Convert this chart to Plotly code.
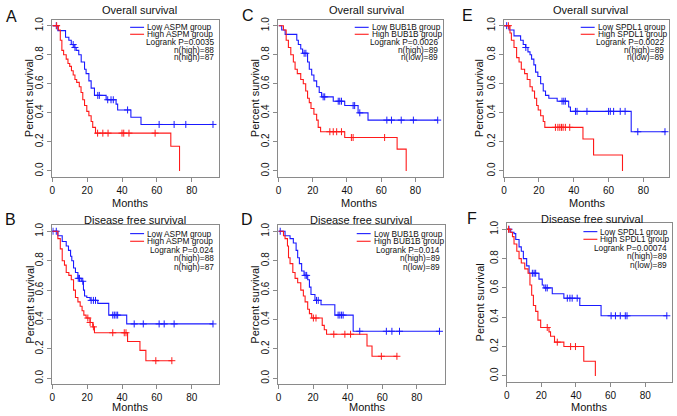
import numpy as np
import plotly.graph_objects as go

W, H = 677, 416

# ---------------- DATA ----------------
# Panel A: ASPM, overall survival
A_low_t = [0, 3.2, 7.6, 9.5, 10.9, 12.5, 13.7, 15.2, 16.6, 18.5, 19.4, 21, 22.3, 24.2, 30.9, 36.6, 37.5, 45.1, 50.9, 92.2]
A_low_s = [1.0, 0.966, 0.92, 0.9, 0.87, 0.85, 0.83, 0.8, 0.75, 0.7, 0.67, 0.62, 0.57, 0.52, 0.49, 0.46, 0.42, 0.37, 0.32, 0.32]
A_low_c = [2.3, 12.0, 13.0, 26.1, 27.0, 31.8, 33.7, 35.0, 43.2, 61.3, 69.9, 76.6, 92.2]
A_high_t = [0, 3.5, 4.6, 5.5, 6.5, 8, 9, 10, 11, 12, 13, 14, 15.5, 16.5, 17.5, 18.5, 19.8, 21, 22.3, 23.2, 24.8, 68, 73]
A_high_s = [1.0, 0.97, 0.9, 0.83, 0.8, 0.77, 0.74, 0.72, 0.69, 0.66, 0.63, 0.61, 0.58, 0.54, 0.49, 0.45, 0.41, 0.38, 0.34, 0.3, 0.26, 0.17, 0.0]
A_high_c = [2.5, 26, 29, 32, 40, 41, 44, 59]

# Panel C: BUB1B, overall survival
C_low_t = [0, 1.9, 3.9, 10.7, 11.6, 13.0, 14.1, 17.0, 18.0, 19.4, 20.7, 22.3, 23.8, 25.2, 32.0, 38.7, 46.5, 52.3, 93]
C_low_s = [1.0, 0.97, 0.94, 0.9, 0.87, 0.84, 0.81, 0.75, 0.7, 0.66, 0.62, 0.58, 0.54, 0.51, 0.48, 0.45, 0.4, 0.35, 0.35]
C_low_c = [15, 16, 26.1, 27, 34.9, 35.8, 36.8, 43.6, 44.5, 47.5, 63.3, 66, 71.7, 78.8, 93]
C_high_t = [0, 2.9, 4.5, 5.8, 7.2, 8.7, 9.7, 11.0, 13.0, 14.5, 15.9, 17.0, 18.0, 19.0, 20.7, 22.3, 23.2, 24.6, 26.1, 38.7, 69.3, 74.6]
C_high_s = [1.0, 0.97, 0.9, 0.85, 0.8, 0.75, 0.7, 0.67, 0.63, 0.6, 0.55, 0.5, 0.47, 0.43, 0.39, 0.35, 0.3, 0.27, 0.27, 0.23, 0.15, 0.0]
C_high_c = [30, 32, 34, 36.8, 42.6, 43.6, 62]

# Panel E: SPDL1, overall survival
E_low_t = [0, 2.9, 5.7, 9.5, 11.0, 12.4, 13.7, 14.9, 15.8, 17.1, 18.1, 19.4, 21.0, 22.5, 23.8, 25.7, 30.5, 37.1, 38.1, 73.0, 93]
E_low_s = [1.0, 0.97, 0.93, 0.9, 0.87, 0.85, 0.82, 0.8, 0.77, 0.73, 0.68, 0.65, 0.6, 0.55, 0.52, 0.5, 0.48, 0.44, 0.41, 0.27, 0.27]
E_low_c = [1.5, 12.5, 33.3, 34.3, 35.2, 41.0, 41.9, 47.6, 60.0, 61.0, 62.9, 66.7, 69.5, 76.8, 92.4]
E_high_t = [0, 3.4, 4.2, 5.7, 7.2, 8.6, 9.9, 11.8, 13.3, 14.9, 16.2, 17.5, 18.7, 19.6, 21.0, 22.5, 23.4, 25.1, 45.3, 51.4, 68.0]
E_high_s = [1.0, 0.95, 0.9, 0.85, 0.78, 0.75, 0.7, 0.67, 0.63, 0.58, 0.55, 0.5, 0.45, 0.42, 0.38, 0.34, 0.3, 0.3, 0.22, 0.11, 0.0]
E_high_c = [2.5, 29.5, 30.9, 32.0, 33.0, 33.9, 35.2, 37.7]

# Panel B: ASPM, disease free survival
B_low_t = [0, 3.2, 5.7, 8.0, 9.3, 10.5, 11.2, 12.2, 13.3, 14.7, 16.6, 17.9, 18.5, 19.8, 21.7, 26.1, 32.4, 42.7, 92.2]
B_low_s = [1.0, 0.97, 0.93, 0.9, 0.87, 0.83, 0.8, 0.75, 0.72, 0.68, 0.66, 0.6, 0.56, 0.55, 0.53, 0.51, 0.43, 0.37, 0.37]
B_low_c = [0.4, 2.3, 14.9, 15.6, 17.5, 22.3, 23.6, 24.8, 34.7, 35.6, 36.6, 37.5, 47, 52.2, 61.3, 64.2, 69.9, 92.2]
B_high_t = [0, 3.2, 4.6, 5.7, 7.0, 8.0, 9.5, 10.9, 12.2, 13.3, 14.7, 16.0, 17.1, 18.1, 19.4, 21.7, 23.2, 24.2, 28.0, 43.2, 50.3, 53.7, 68.6]
B_high_s = [1.0, 0.95, 0.88, 0.8, 0.77, 0.72, 0.7, 0.67, 0.6, 0.55, 0.52, 0.49, 0.46, 0.43, 0.41, 0.38, 0.35, 0.31, 0.31, 0.25, 0.19, 0.12, 0.12]
B_high_c = [20.4, 21.7, 23.6, 34.7, 41.3, 42.3, 59.4, 68.6]

# Panel D: BUB1B, disease free survival
D_low_t = [0, 3.8, 6.7, 8.6, 10.2, 11.1, 12.1, 13.4, 14.8, 16.9, 17.9, 18.8, 21.1, 24.6, 32.6, 43.2, 93.1]
D_low_s = [1.0, 0.97, 0.95, 0.92, 0.87, 0.82, 0.78, 0.73, 0.7, 0.67, 0.62, 0.57, 0.53, 0.5, 0.43, 0.32, 0.32]
D_low_c = [1.0, 15.4, 16.3, 22.0, 23.0, 34.5, 35.5, 36.5, 37.4, 47.0, 62.4, 65.6, 70.0, 93.1]
D_high_t = [0, 2.9, 3.8, 5.2, 5.8, 6.7, 8.3, 9.6, 11.1, 12.9, 14.4, 15.4, 16.9, 17.9, 19.2, 25.3, 26.5, 27.8, 51.2, 54.1, 68.5]
D_high_s = [1.0, 0.97, 0.95, 0.9, 0.82, 0.78, 0.72, 0.68, 0.65, 0.6, 0.56, 0.52, 0.47, 0.44, 0.41, 0.36, 0.33, 0.3, 0.22, 0.15, 0.15]
D_high_c = [20.2, 21.7, 32.0, 38.4, 41.7, 59.5, 68.5]

# Panel F: SPDL1, disease free survival
F_low_t = [0, 2.3, 4.2, 5.2, 7.1, 8.4, 9.6, 11.5, 12.9, 18.6, 20.5, 21.5, 26.3, 33.0, 42.2, 54.5, 92.5]
F_low_s = [1.0, 0.98, 0.97, 0.93, 0.88, 0.85, 0.8, 0.75, 0.7, 0.66, 0.62, 0.6, 0.56, 0.53, 0.48, 0.41, 0.41]
F_low_c = [1.3, 14.8, 15.8, 16.7, 22.5, 23.4, 35.0, 36.5, 37.8, 40.7, 60.3, 62.8, 65.6, 68.5, 69.5, 92.5]
F_high_t = [0, 1.9, 3.3, 4.2, 5.8, 7.1, 8.4, 10.4, 12.3, 13.4, 14.4, 15.4, 16.7, 18.0, 19.6, 24.4, 25.3, 27.6, 33.0, 44.5, 51.2]
F_high_s = [1.0, 0.98, 0.95, 0.9, 0.85, 0.8, 0.77, 0.73, 0.7, 0.62, 0.55, 0.48, 0.44, 0.38, 0.33, 0.3, 0.27, 0.23, 0.2, 0.1, 0.0]
F_high_c = [1.0, 23.4, 29.2, 36.9, 39.7]

x_ticks = [0, 20, 40, 60, 80]
y_ticks = [0.0, 0.2, 0.4, 0.6, 0.8, 1.0]

panels = [
    ("A", "ASPM", "Overall survival", "Logrank P=0.0035", ["n(high)=88", "n(high)=87"],
     (A_low_t, A_low_s, A_low_c), (A_high_t, A_high_s, A_high_c)),
    ("C", "BUB1B", "Overall survival", "Logrank P=0.0026", ["n(high)=89", "n(low)=89"],
     (C_low_t, C_low_s, C_low_c), (C_high_t, C_high_s, C_high_c)),
    ("E", "SPDL1", "Overall survival", "Logrank P=0.0022", ["n(high)=89", "n(low)=89"],
     (E_low_t, E_low_s, E_low_c), (E_high_t, E_high_s, E_high_c)),
    ("B", "ASPM", "Disease free survival", "Logrank P=0.024", ["n(high)=88", "n(high)=87"],
     (B_low_t, B_low_s, B_low_c), (B_high_t, B_high_s, B_high_c)),
    ("D", "BUB1B", "Disease free survival", "Logrank P=0.014", ["n(high)=89", "n(low)=89"],
     (D_low_t, D_low_s, D_low_c), (D_high_t, D_high_s, D_high_c)),
    ("F", "SPDL1", "Disease free survival", "Logrank P=0.00074", ["n(high)=89", "n(low)=89"],
     (F_low_t, F_low_s, F_low_c), (F_high_t, F_high_s, F_high_c)),
]

# ---------------- LAYOUT (pixel geometry) ----------------
geom = {
    "A": dict(box=(49.5, 216.7, 17, 175), xmax=95.5, letter=(9, 14), title=(137, 7.5), months=(128, 201), ylab=26, row=0),
    "C": dict(box=(276.7, 442.3, 17, 175), xmax=96.3, letter=(246, 13), title=(365, 7.5), months=(358, 201), ylab=253, row=0),
    "E": dict(box=(503.3, 669.3, 17, 175), xmax=94.9, letter=(467, 13), title=(590, 7.5), months=(587, 201), ylab=478, row=0),
    "B": dict(box=(49.5, 216.7, 224, 384), xmax=95.5, letter=(8, 218), title=(133, 219), months=(128, 407), ylab=27, row=1),
    "D": dict(box=(276.7, 444.3, 224, 384), xmax=96.5, letter=(245, 218), title=(360, 219), months=(366, 407), ylab=253, row=1),
    "F": dict(box=(506, 672, 222, 381.5), xmax=95.5, letter=(471, 217), title=(592, 217.5), months=(589, 407), ylab=479, row=1),
}
leg_offsets = [[7.5, 14.5, 22.5, 30, 37.5], [8.3, 16, 24.5, 33, 41.5]]

FONT = "Liberation Sans, Arial, Helvetica, sans-serif"
BLUE = "#1a1aff"
RED = "#ff1a1a"
AXC = "#8a8a8a"

def px(x):
    return x / W

def py(y):
    return 1 - y / H

def surv_at(t, s, c):
    t = np.asarray(t)
    s = np.asarray(s)
    idx = np.searchsorted(t, np.asarray(c), side="right") - 1
    return s[np.clip(idx, 0, len(s) - 1)]

fig = go.Figure()
layout = dict(
    width=W, height=H, margin=dict(l=0, r=0, t=0, b=0, pad=0),
    paper_bgcolor="white", plot_bgcolor="white", showlegend=False,
    font=dict(family=FONT, color="#111"),
)
annotations = []
shapes = []

for i, (letter, gene, title, logrank, nlines, low, high) in enumerate(panels):
    g = geom[letter]
    L, R, T, B = g["box"]
    k = "" if i == 0 else str(i + 1)
    xa, ya = "x" + k, "y" + k
    layout["xaxis" + k] = dict(
        domain=[px(L), px(R)], range=[0, g["xmax"]], anchor=ya,
        tickvals=x_ticks, ticks="outside", ticklen=4, tickcolor=AXC, tickwidth=1,
        showline=True, linecolor=AXC, linewidth=1, mirror=True,
        showgrid=False, zeroline=False, tickfont=dict(size=10, color="#111"),
    )
    layout["yaxis" + k] = dict(
        domain=[py(B), py(T)], range=[-0.04, 1.04], anchor=xa,
        tickvals=y_ticks, tickformat=".1f", tickangle=-90, ticks="outside", ticklen=4,
        tickcolor=AXC, tickwidth=1,
        showline=True, linecolor=AXC, linewidth=1, mirror=True,
        showgrid=False, zeroline=False, tickfont=dict(size=10, color="#111"),
    )
    for (t, s, c), col in ((low, BLUE), (high, RED)):
        fig.add_trace(go.Scatter(x=t, y=s, mode="lines", xaxis=xa, yaxis=ya,
                                 line=dict(shape="hv", color=col, width=1.1),
                                 hoverinfo="skip"))
        fig.add_trace(go.Scatter(x=c, y=surv_at(t, s, c), mode="markers", xaxis=xa, yaxis=ya,
                                 marker=dict(symbol="cross-thin", size=5, color=col,
                                             line=dict(width=1, color=col)),
                                 hoverinfo="skip"))

    lx, ly = g["letter"]
    annotations.append(dict(text=letter, x=px(lx), y=py(ly), xref="paper", yref="paper",
                            showarrow=False, xanchor="center", yanchor="middle",
                            font=dict(size=16, color="#111")))
    tx, ty = g["title"]
    annotations.append(dict(text=title, x=px(tx), y=py(ty), xref="paper", yref="paper",
                            showarrow=False, xanchor="center", yanchor="middle",
                            font=dict(size=11, color="#111")))
    mx, my = g["months"]
    annotations.append(dict(text="Months", x=px(mx), y=py(my), xref="paper", yref="paper",
                            showarrow=False, xanchor="center", yanchor="middle",
                            font=dict(size=11, color="#111")))
    annotations.append(dict(text="Percent survival", x=px(g["ylab"]), y=py((T + B) / 2),
                            xref="paper", yref="paper", showarrow=False, textangle=-90,
                            xanchor="center", yanchor="middle",
                            font=dict(size=11, color="#111")))
    offs = leg_offsets[g["row"]]
    for j, (lab, col) in enumerate(((f"Low {gene} group", BLUE), (f"High {gene} group", RED))):
        yy = T + offs[j]
        shapes.append(dict(type="line", xref="paper", yref="paper",
                           x0=px(R - 89), x1=px(R - 75), y0=py(yy), y1=py(yy),
                           line=dict(color=col, width=1.1)))
        annotations.append(dict(text=lab, x=px(R - 73), y=py(yy), xref="paper", yref="paper",
                                showarrow=False, xanchor="left", yanchor="middle", borderpad=0,
                                font=dict(size=8.3, color="#111")))
    for j, lab in enumerate([logrank] + nlines):
        yy = T + offs[j + 2]
        annotations.append(dict(text=lab, x=px(R - 4), y=py(yy), xref="paper", yref="paper",
                                showarrow=False, xanchor="right", yanchor="middle", borderpad=0,
                                font=dict(size=8.3, color="#111")))

layout["annotations"] = annotations
layout["shapes"] = shapes
fig.update_layout(**layout)
fig.write_html("out.html", config={"responsive": False, "displayModeBar": False},
               post_script="document.body.style.margin='0';document.body.style.overflow='hidden';")
